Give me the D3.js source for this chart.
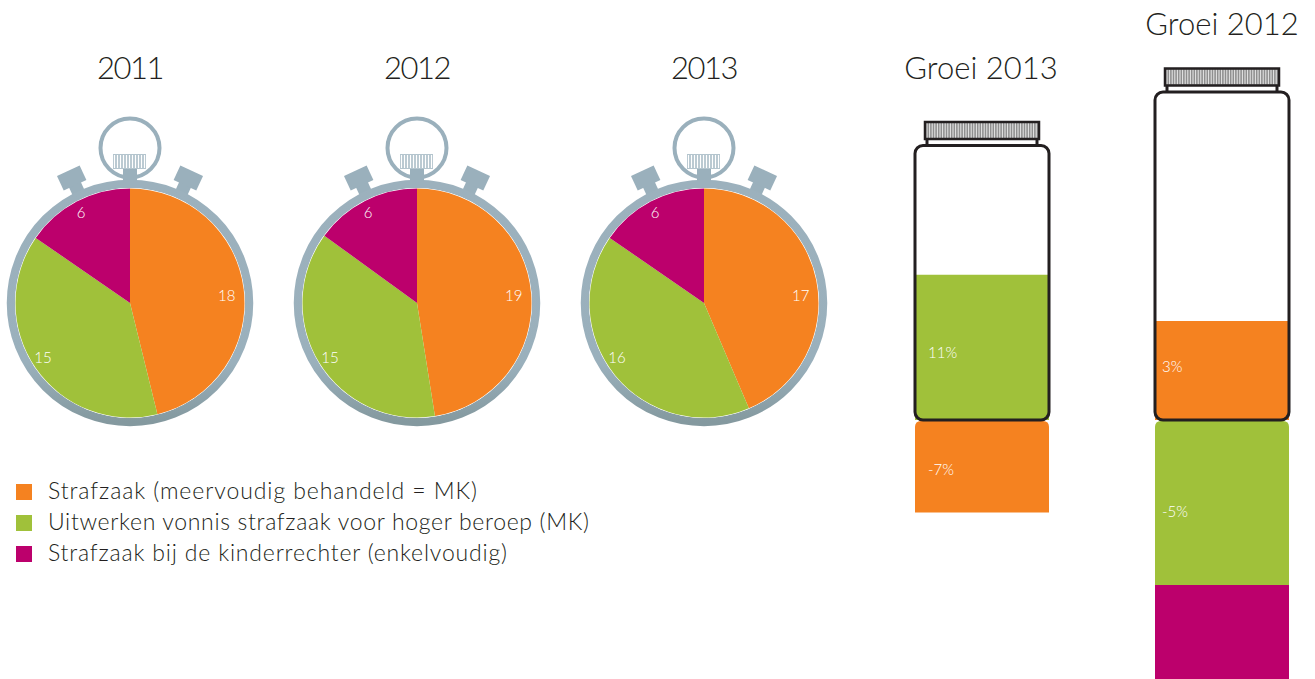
<!DOCTYPE html>
<html>
<head>
<meta charset="utf-8">
<script src="https://cdn.jsdelivr.net/npm/d3@7"></script>
<style>
html, body { margin: 0; padding: 0; background: #fff; overflow: hidden; }
text { font-family: Lato, "Open Sans", sans-serif; font-weight: 300; }
</style>
</head>
<body>
<svg id="chart" width="1315" height="679"></svg>
<script>
var caseTypes = ['Strafzaak (meervoudig behandeld = MK)',
    'Uitwerken vonnis strafzaak voor hoger beroep (MK)',
    'Strafzaak bij de kinderrechter (enkelvoudig)'];
var caseColors = ['#f58220', '#a0c13a', '#bc006c'];

var years = ['2011', '2012', '2013'];
var values2011 = [18, 15, 6];
var values2012 = [19, 15, 6];
var values2013 = [17, 16, 6];

var growthTitles = ['Groei 2013', 'Groei 2012'];
var growth2013 = [-7, 11, 0];
var growth2012 = [3, -5, -3];   // last one runs off the picture, no label is visible

var ringColor = '#9ab0bc';
var jarColor = '#231f20';

var svg = d3.select('#chart');
var color = d3.scaleOrdinal().domain(caseTypes).range(caseColors);

// case gets darker towards the bottom
var grad = svg.append('defs').append('linearGradient')
    .attr('id', 'ringGrad')
    .attr('x1', 0).attr('x2', 0).attr('y1', 0).attr('y2', 1);
grad.append('stop').attr('offset', '0%').attr('stop-color', '#9cb1bd');
grad.append('stop').attr('offset', '75%').attr('stop-color', '#9ab0bc');
grad.append('stop').attr('offset', '100%').attr('stop-color', '#84999f');

// stopwatches
var xWatch = d3.scalePoint().domain(years).range([130, 704]);
var yWatch = 303, rPie = 114.5;
var pie = d3.pie().sort(null);
var arc = d3.arc().innerRadius(0).outerRadius(rPie);
// labels sit on the same spot in every watch, whatever the slice size
var labelSpots = [[86, 97], [237.7, 103], [331.7, 103]];

function hatch(g, x0, x1, y0, y1, step, col, w) {
    g.selectAll(null)
        .data(d3.range(x0, x1, step))
        .enter().append('line')
        .attr('x1', function(d) { return d; })
        .attr('x2', function(d) { return d; })
        .attr('y1', y0)
        .attr('y2', y1)
        .attr('stroke', col)
        .attr('stroke-width', w);
}

function drawWatch(year, values) {
    var g = svg.append('g').attr('transform', 'translate(' + xWatch(year) + ',' + yWatch + ')');

    svg.append('text')
        .attr('x', xWatch(year))
        .attr('y', 79)
        .attr('text-anchor', 'middle')
        .attr('font-size', 31)
        .attr('letter-spacing', -1.5)
        .attr('fill', '#231f20')
        .text(year);

    // side buttons
    [-25, 25].forEach(function(angle) {
        var b = g.append('g').attr('transform', 'rotate(' + angle + ')');
        b.append('rect').attr('x', -6.5).attr('y', -132).attr('width', 13).attr('height', 14).attr('fill', ringColor);
        b.append('rect').attr('x', -12.5).attr('y', -146).attr('width', 25).attr('height', 16).attr('fill', ringColor);
    });

    // loop and crown
    g.append('circle').attr('cy', -155).attr('r', 29.5)
        .attr('fill', 'none').attr('stroke', ringColor).attr('stroke-width', 4);
    g.append('rect').attr('x', -7).attr('y', -135).attr('width', 14).attr('height', 16).attr('fill', ringColor);
    g.append('rect').attr('x', -17).attr('y', -149).attr('width', 33).attr('height', 15).attr('fill', '#b4c5ce');
    var crown = g.append('g');
    hatch(crown, -15.5, 15, -148, -135, 3, '#ffffff', 1.2);

    // case
    g.append('circle').attr('r', 119)
        .attr('fill', '#fff').attr('stroke', 'url(#ringGrad)').attr('stroke-width', 8.5);
    g.append('circle').attr('r', 115).attr('fill', '#fff');

    var arcs = pie(values);
    g.selectAll('path.slice')
        .data(arcs)
        .enter().append('path')
        .attr('class', 'slice')
        .attr('d', arc)
        .attr('fill', function(d, i) { return caseColors[i]; });

    g.selectAll('text.val')
        .data(arcs)
        .enter().append('text')
        .attr('class', 'val')
        .attr('transform', function(d, i) {
            var p = d3.pointRadial(labelSpots[i][0] * Math.PI / 180, labelSpots[i][1]);
            return 'translate(' + p + ')';
        })
        .attr('text-anchor', 'middle')
        .attr('dy', '0.35em')
        .attr('font-size', 15)
        .attr('fill', '#fff')
        .text(function(d) { return d.value; });
}

drawWatch('2011', values2011);
drawWatch('2012', values2012);
drawWatch('2013', values2013);

// legend
var legendWidths = [429, 541, 459];
var legend = svg.selectAll('g.legend')
    .data(caseTypes)
    .enter().append('g')
    .attr('class', 'legend')
    .attr('transform', function(d, i) { return 'translate(16,' + (484 + i * 31) + ')'; });
legend.append('rect')
    .attr('width', 16).attr('height', 16)
    .attr('fill', function(d) { return color(d); });
legend.append('text')
    .attr('x', 32)
    .attr('y', 15)
    .attr('font-size', 23)
    .attr('textLength', function(d, i) { return legendWidths[i]; })
    .attr('lengthAdjust', 'spacing')
    .attr('fill', '#231f20')
    .text(function(d) { return d; });

// jars: positive growth stacks up from the base, negative hangs under it
var baseY = 420;

function drawJar(opts) {
    var x = d3.scaleLinear().domain([0, 1]).range([opts.x0, opts.x1]);
    var y = d3.scaleLinear().domain([0, 1]).range([baseY, baseY - opts.pxPerPoint]);
    var g = svg.append('g');
    var up = 0, down = 0;

    svg.append('text')
        .attr('x', opts.titleX)
        .attr('y', opts.titleY)
        .attr('text-anchor', 'middle')
        .attr('font-size', 31)
        .attr('fill', '#231f20')
        .text(opts.title);

    var marks = [];
    opts.values.forEach(function(v, i) {
        if (v > 0) { marks.push({ from: up, to: up + v, v: v, i: i }); up += v; }
        if (v < 0) { marks.push({ from: down, to: down + v, v: v, i: i }); down += v; }
    });

    g.selectAll('path')
        .data(marks)
        .enter().append('path')
        .attr('fill', function(d) { return caseColors[d.i]; })
        .attr('d', function(d) {
            var l = x(0), r = x(1), a = y(d.from), b = y(d.to);
            if (d.v > 0) {
                return 'M' + l + ',' + a + 'V' + b + 'H' + r + 'V' + a + 'Z';
            }
            var top = a === baseY ? a + 1 : a, rad = a === baseY ? 6 : 0;
            return 'M' + l + ',' + b + 'V' + (top + rad) + 'Q' + l + ',' + top + ' ' + (l + rad) + ',' + top +
                'H' + (r - rad) + 'Q' + r + ',' + top + ' ' + r + ',' + (top + rad) + 'V' + b + 'Z';
        });

    g.selectAll('text')
        .data(marks.filter(function(d) { return opts.labelDy[d.i] !== undefined; }))
        .enter().append('text')
        .attr('x', x(0) + opts.labelDx)
        .attr('y', function(d) { return (y(d.from) + y(d.to)) / 2 + opts.labelDy[d.i]; })
        .attr('dy', '0.35em')
        .attr('font-size', 15)
        .attr('fill', '#fff')
        .text(function(d) { return d.v + '%'; });

    // outline
    svg.append('rect')
        .attr('x', x(0)).attr('y', opts.top)
        .attr('width', x(1) - x(0)).attr('height', baseY - opts.top)
        .attr('rx', 8)
        .attr('fill', 'none').attr('stroke', jarColor).attr('stroke-width', 3);

    // lid
    var capTop = opts.top - 23.5;
    [x(0) + 12, x(1) - 12].forEach(function(px) {
        svg.append('line').attr('x1', px).attr('x2', px)
            .attr('y1', capTop + 16).attr('y2', opts.top)
            .attr('stroke', jarColor).attr('stroke-width', 3);
    });
    svg.append('rect')
        .attr('x', x(0) + 10).attr('y', capTop)
        .attr('width', x(1) - x(0) - 20).attr('height', 17)
        .attr('fill', '#8f8f8f');
    var lid = svg.append('g');
    hatch(lid, x(0) + 12, x(1) - 10, capTop + 1, capTop + 16, 2.6, '#ffffff', 0.8);
    svg.append('rect')
        .attr('x', x(0) + 10).attr('y', capTop)
        .attr('width', x(1) - x(0) - 20).attr('height', 17)
        .attr('fill', 'none').attr('stroke', jarColor).attr('stroke-width', 2.5);
}

drawJar({ title: growthTitles[0], titleX: 981, titleY: 79, x0: 915, x1: 1049, top: 145.5,
    pxPerPoint: 13.2, values: growth2013, labelDx: 13, labelDy: { 0: 4, 1: 5 } });
drawJar({ title: growthTitles[1], titleX: 1222, titleY: 35, x0: 1155, x1: 1289, top: 92,
    pxPerPoint: 33, values: growth2012, labelDx: 7, labelDy: { 0: -3.5, 1: 9.5 } });
</script>
</body>
</html>
